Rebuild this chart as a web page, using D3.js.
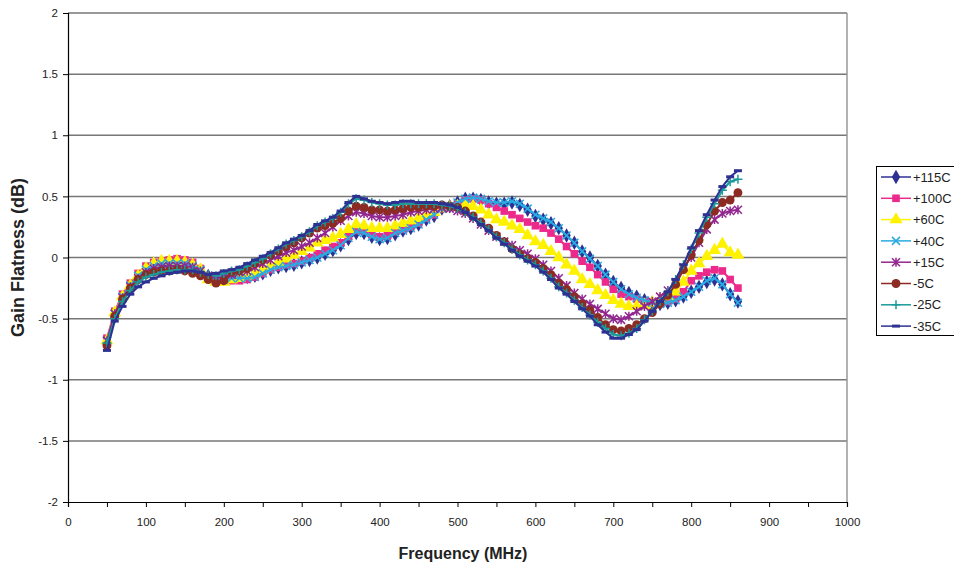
<!DOCTYPE html>
<html>
<head>
<meta charset="utf-8">
<script src="https://cdn.jsdelivr.net/npm/d3@7"></script>
<style>
  body { margin: 0; background: #fff; }
  svg { display: block; font-family: Arial, "Liberation Sans", sans-serif; }
</style>
</head>
<body>
<div id="chart"></div>
<script>
// frequency points (MHz)
const freqs = [50,60,70,80,90,100,110,120,130,140,150,160,170,180,190,200,210,220,230,240,
  250,260,270,280,290,300,310,320,330,340,350,360,370,380,390,400,410,420,430,440,
  450,460,470,480,490,500,510,520,530,540,550,560,570,580,590,600,610,620,630,640,
  650,660,670,680,690,700,710,720,730,740,750,760,770,780,790,800,810,820,830,840,850,860];

// gain flatness (dB), one list per temperature
const p115 = [-0.70,-0.48,-0.34,-0.25,-0.17,-0.12,-0.09,-0.07,-0.06,-0.06,
  -0.06,-0.08,-0.11,-0.15,-0.18,-0.17,-0.16,-0.16,-0.16,-0.15,
  -0.13,-0.10,-0.08,-0.07,-0.06,-0.04,-0.02,0.00,0.03,0.06,
  0.10,0.15,0.20,0.20,0.17,0.15,0.16,0.19,0.22,0.24,
  0.27,0.31,0.34,0.40,0.42,0.45,0.48,0.48,0.47,0.45,
  0.44,0.44,0.45,0.43,0.39,0.34,0.31,0.28,0.24,0.18,
  0.12,0.05,0.00,-0.07,-0.14,-0.20,-0.25,-0.29,-0.32,-0.35,
  -0.37,-0.38,-0.37,-0.35,-0.32,-0.28,-0.24,-0.20,-0.18,-0.22,
  -0.30,-0.36];
const p100 = [-0.66,-0.44,-0.30,-0.21,-0.13,-0.07,-0.04,-0.03,-0.02,-0.01,
  -0.02,-0.04,-0.09,-0.16,-0.19,-0.19,-0.19,-0.19,-0.18,-0.16,
  -0.13,-0.10,-0.08,-0.06,-0.05,-0.03,0.00,0.03,0.06,0.09,
  0.12,0.17,0.22,0.22,0.19,0.17,0.18,0.21,0.23,0.25,
  0.28,0.32,0.35,0.40,0.42,0.44,0.47,0.48,0.47,0.44,
  0.41,0.38,0.35,0.32,0.29,0.26,0.24,0.20,0.15,0.09,
  0.03,-0.03,-0.08,-0.14,-0.20,-0.26,-0.30,-0.32,-0.34,-0.36,
  -0.37,-0.37,-0.36,-0.34,-0.28,-0.19,-0.15,-0.12,-0.10,-0.11,
  -0.18,-0.25];
const p60 = [-0.68,-0.45,-0.32,-0.23,-0.15,-0.09,-0.05,-0.03,-0.03,-0.03,
  -0.04,-0.06,-0.10,-0.18,-0.20,-0.20,-0.18,-0.17,-0.15,-0.13,
  -0.10,-0.07,-0.04,-0.01,0.02,0.05,0.08,0.12,0.14,0.16,
  0.19,0.23,0.27,0.26,0.24,0.24,0.24,0.26,0.28,0.30,
  0.32,0.35,0.37,0.40,0.41,0.42,0.43,0.42,0.39,0.35,
  0.31,0.29,0.26,0.23,0.18,0.13,0.10,0.05,0.00,-0.06,
  -0.11,-0.18,-0.22,-0.27,-0.31,-0.35,-0.38,-0.40,-0.40,-0.39,
  -0.37,-0.35,-0.32,-0.28,-0.20,-0.11,-0.05,0.01,0.06,0.11,
  0.04,0.02];
const p40 = [-0.68,-0.46,-0.32,-0.23,-0.15,-0.10,-0.07,-0.05,-0.05,-0.05,
  -0.05,-0.07,-0.10,-0.15,-0.18,-0.18,-0.17,-0.17,-0.17,-0.16,
  -0.13,-0.10,-0.08,-0.07,-0.06,-0.04,-0.02,0.00,0.03,0.06,
  0.10,0.16,0.21,0.20,0.17,0.15,0.16,0.20,0.22,0.24,
  0.27,0.31,0.35,0.40,0.42,0.45,0.48,0.49,0.48,0.46,
  0.45,0.45,0.46,0.44,0.40,0.35,0.32,0.29,0.24,0.18,
  0.12,0.05,-0.01,-0.07,-0.14,-0.20,-0.26,-0.30,-0.33,-0.35,
  -0.37,-0.38,-0.37,-0.35,-0.32,-0.28,-0.24,-0.19,-0.17,-0.22,
  -0.30,-0.37];
const p15 = [-0.68,-0.46,-0.33,-0.24,-0.17,-0.12,-0.09,-0.08,-0.07,-0.07,
  -0.07,-0.08,-0.11,-0.15,-0.17,-0.16,-0.14,-0.12,-0.11,-0.08,
  -0.05,-0.02,0.01,0.04,0.06,0.09,0.12,0.16,0.20,0.25,
  0.30,0.34,0.37,0.36,0.34,0.33,0.33,0.34,0.35,0.37,
  0.38,0.39,0.40,0.41,0.40,0.38,0.36,0.32,0.27,0.22,
  0.17,0.13,0.10,0.06,0.03,-0.01,-0.06,-0.11,-0.17,-0.23,
  -0.29,-0.34,-0.38,-0.42,-0.46,-0.50,-0.51,-0.48,-0.44,-0.40,
  -0.36,-0.32,-0.27,-0.20,-0.08,0.00,0.12,0.23,0.31,0.36,
  0.38,0.39];
const m5 = [-0.72,-0.48,-0.34,-0.25,-0.18,-0.14,-0.12,-0.11,-0.11,-0.10,
  -0.11,-0.13,-0.15,-0.18,-0.21,-0.19,-0.12,-0.11,-0.09,-0.05,
  -0.02,0.02,0.05,0.09,0.12,0.16,0.20,0.24,0.26,0.28,
  0.32,0.38,0.42,0.41,0.39,0.39,0.38,0.39,0.40,0.41,
  0.41,0.42,0.42,0.43,0.42,0.41,0.38,0.34,0.29,0.24,
  0.18,0.13,0.07,0.03,-0.01,-0.04,-0.09,-0.14,-0.21,-0.26,
  -0.32,-0.38,-0.43,-0.49,-0.55,-0.59,-0.60,-0.58,-0.55,-0.50,
  -0.45,-0.38,-0.31,-0.22,-0.10,0.02,0.14,0.27,0.38,0.45,
  0.47,0.53];
const m25 = [-0.70,-0.50,-0.36,-0.27,-0.20,-0.16,-0.14,-0.12,-0.11,-0.10,
  -0.10,-0.10,-0.12,-0.14,-0.15,-0.13,-0.11,-0.10,-0.07,-0.04,
  -0.01,0.03,0.07,0.11,0.14,0.17,0.21,0.26,0.29,0.32,
  0.37,0.44,0.48,0.47,0.45,0.44,0.43,0.43,0.44,0.44,
  0.44,0.44,0.44,0.43,0.42,0.40,0.37,0.33,0.28,0.23,
  0.17,0.12,0.07,0.02,-0.02,-0.06,-0.11,-0.17,-0.24,-0.29,
  -0.35,-0.41,-0.47,-0.53,-0.58,-0.63,-0.64,-0.62,-0.58,-0.51,
  -0.44,-0.36,-0.28,-0.18,-0.06,0.07,0.20,0.33,0.44,0.55,
  0.62,0.64];
const m35 = [-0.76,-0.52,-0.40,-0.30,-0.24,-0.20,-0.17,-0.15,-0.13,-0.12,
  -0.11,-0.11,-0.12,-0.14,-0.13,-0.11,-0.10,-0.08,-0.05,-0.02,
  0.01,0.04,0.08,0.12,0.15,0.18,0.22,0.27,0.30,0.33,
  0.38,0.45,0.50,0.48,0.46,0.45,0.44,0.45,0.46,0.46,
  0.45,0.45,0.45,0.44,0.43,0.41,0.37,0.32,0.27,0.22,
  0.16,0.11,0.06,0.01,-0.03,-0.07,-0.12,-0.18,-0.25,-0.30,
  -0.36,-0.42,-0.48,-0.55,-0.61,-0.66,-0.66,-0.63,-0.59,-0.52,
  -0.44,-0.36,-0.28,-0.18,-0.06,0.08,0.22,0.35,0.47,0.58,
  0.66,0.71];

const seriesNames = ["+115C", "+100C", "+60C", "+40C", "+15C", "-5C", "-25C", "-35C"];
const seriesValues = [p115, p100, p60, p40, p15, m5, m25, m35];
const seriesColors = ["#2e3192", "#ec2a8c", "#fff200", "#29abe2", "#92278f", "#8b2b23", "#1a9b9a", "#2e3192"];
const seriesMarkers = ["diamond", "square", "triangle", "x", "asterisk", "circle", "plus", "dash"];

const yTicks = [-2, -1.5, -1, -0.5, 0, 0.5, 1, 1.5, 2];
const xTicks = [0, 50, 100, 150, 200, 250, 300, 350, 400, 450, 500, 550, 600, 650, 700, 750, 800, 850, 900, 950, 1000];

const W = 954, H = 567;
const plot = { left: 68, right: 847, top: 13, bottom: 502 };

const svg = d3.select("#chart").append("svg")
    .attr("width", W)
    .attr("height", H);

svg.append("rect").attr("width", W).attr("height", H).attr("fill", "#fff");

const x = d3.scaleLinear().domain([0, 1000]).range([plot.left, plot.right]);
const y = d3.scaleLinear().domain([-2, 2]).range([plot.bottom, plot.top]);

// gridlines + plot border
svg.append("g")
    .selectAll("line")
    .data(yTicks.filter(d => d > -2))
    .join("line")
    .attr("x1", plot.left).attr("x2", plot.right)
    .attr("y1", d => y(d)).attr("y2", d => y(d))
    .attr("stroke", "#777")
    .attr("stroke-width", 1.5);

svg.append("line")
    .attr("x1", plot.right).attr("x2", plot.right)
    .attr("y1", plot.top).attr("y2", plot.bottom)
    .attr("stroke", "#999")
    .attr("stroke-width", 1.5);

// axes
const yAxis = svg.append("g")
    .attr("transform", `translate(${plot.left},0)`)
    .call(d3.axisLeft(y).tickValues(yTicks).tickSize(5).tickPadding(5).tickFormat(d => String(d)));

const xAxis = svg.append("g")
    .attr("transform", `translate(0,${plot.bottom})`)
    .call(d3.axisBottom(x).tickValues(xTicks).tickSize(5).tickPadding(11)
        .tickFormat(d => d % 100 === 0 ? String(d) : ""));

[yAxis, xAxis].forEach(a => {
    a.select(".domain").attr("stroke", "#000").attr("stroke-width", 1.2);
    a.selectAll(".tick line").attr("stroke", "#000");
    a.selectAll(".tick text").attr("fill", "#222").attr("font-size", "11.5px")
        .attr("font-family", "Arial, 'Liberation Sans', sans-serif");
});

// marker drawing
function drawMarker(g, type, color) {
    if (type === "diamond") {
        g.append("path").attr("d", d3.symbol(d3.symbolDiamond, 60)()).attr("fill", color);
    } else if (type === "square") {
        g.append("path").attr("d", d3.symbol(d3.symbolSquare, 58)()).attr("fill", color);
    } else if (type === "triangle") {
        g.append("path").attr("d", d3.symbol(d3.symbolTriangle, 72)()).attr("fill", color);
    } else if (type === "circle") {
        g.append("path").attr("d", d3.symbol(d3.symbolCircle, 62)()).attr("fill", color);
    } else if (type === "x") {
        g.append("path").attr("d", "M-4,-4L4,4M-4,4L4,-4")
            .attr("stroke", color).attr("stroke-width", 1.5).attr("fill", "none");
    } else if (type === "asterisk") {
        g.append("path").attr("d", "M-4,-4L4,4M-4,4L4,-4M0,-4.5V4.5")
            .attr("stroke", color).attr("stroke-width", 1.5).attr("fill", "none");
    } else if (type === "plus") {
        g.append("path").attr("d", "M-4.5,0H4.5M0,-4.5V4.5")
            .attr("stroke", color).attr("stroke-width", 1.5).attr("fill", "none");
    } else if (type === "dash") {
        g.append("path").attr("d", "M-4,0H4")
            .attr("stroke", color).attr("stroke-width", 3).attr("fill", "none");
    }
}

const line = d3.line()
    .x(d => x(d.f))
    .y(d => y(d.v));

seriesValues.forEach((vals, i) => {
    const pts = freqs.map((f, k) => ({ f, v: vals[k] }));
    const g = svg.append("g").attr("class", "series");
    g.append("path")
        .datum(pts)
        .attr("d", line)
        .attr("fill", "none")
        .attr("stroke", seriesColors[i])
        .attr("stroke-width", 2);
    g.selectAll("g.mk")
        .data(pts)
        .join("g")
        .attr("class", "mk")
        .attr("transform", d => `translate(${x(d.f)},${y(d.v)})`)
        .each(function () { drawMarker(d3.select(this), seriesMarkers[i], seriesColors[i]); });
});

// axis titles
svg.append("text")
    .attr("x", 463)
    .attr("y", 559)
    .attr("text-anchor", "middle")
    .attr("font-size", "16px")
    .attr("font-weight", "bold")
    .attr("fill", "#222")
    .text("Frequency (MHz)");

svg.append("text")
    .attr("transform", `translate(24,${(plot.top + plot.bottom) / 2}) rotate(-90)`)
    .attr("text-anchor", "middle")
    .attr("font-size", "18px")
    .attr("font-weight", "bold")
    .attr("fill", "#222")
    .text("Gain Flatness (dB)");

// legend
const legend = svg.append("g");
legend.append("rect")
    .attr("x", 876.5).attr("y", 166.5)
    .attr("width", 100).attr("height", 169)
    .attr("fill", "#fff")
    .attr("stroke", "#000");

seriesNames.forEach((name, i) => {
    const cy = 177 + i * 21.3;
    const item = legend.append("g");
    item.append("line")
        .attr("x1", 881).attr("x2", 911)
        .attr("y1", cy).attr("y2", cy)
        .attr("stroke", seriesColors[i])
        .attr("stroke-width", 1.5);
    drawMarker(item.append("g").attr("transform", `translate(896,${cy})`), seriesMarkers[i], seriesColors[i]);
    item.append("text")
        .attr("x", 913)
        .attr("y", cy)
        .attr("dy", "0.36em")
        .attr("font-size", "13px")
        .attr("fill", "#222")
        .text(name);
});
</script>
</body>
</html>
